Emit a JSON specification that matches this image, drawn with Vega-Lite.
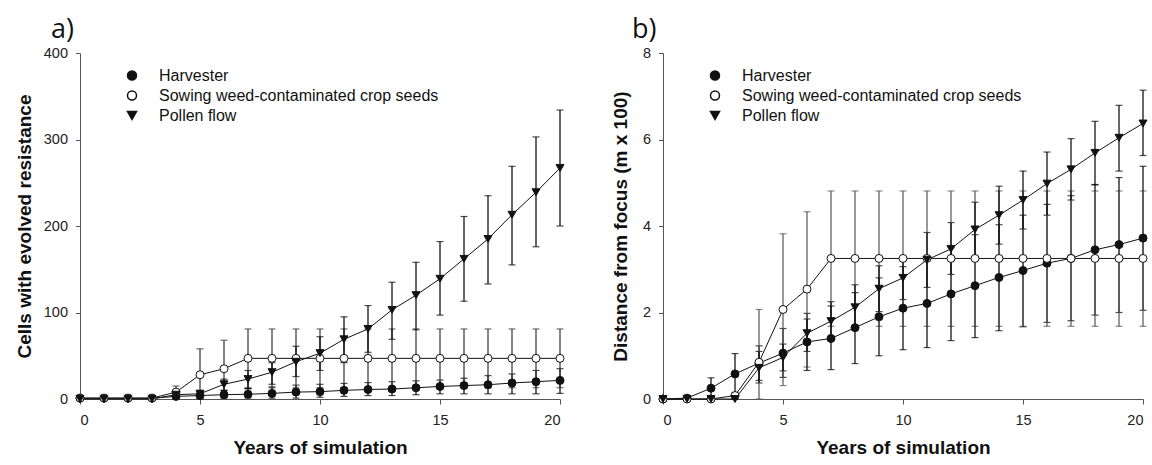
{
  "$schema": "https://vega.github.io/schema/vega-lite/v6.json",
  "background": "white",
  "padding": {"left": 15, "top": 16, "right": 0, "bottom": 0},
  "resolve": {"scale": {"shape": "independent", "fill": "independent", "color": "independent"}, "legend": {"shape": "independent", "fill": "independent", "color": "independent"}},
  "config": {
    "view": {"stroke": null},
    "font": "Liberation Sans",
    "concat": {"spacing": 45},
    "axis": {
      "grid": false,
      "domainColor": "#555",
      "tickColor": "#555",
      "domainWidth": 1,
      "tickWidth": 1,
      "labelFont": "Liberation Sans",
      "labelFontSize": 14.5,
      "labelColor": "#222",
      "titleFont": "Liberation Sans",
      "titleFontSize": 19,
      "titleFontWeight": "bold",
      "titleColor": "#111"
    },
    "axisX": {"tickSize": 5, "labelPadding": 9, "titlePadding": 12},
    "axisY": {"tickSize": 4.5, "labelPadding": 8},
    "legend": {"labelLimit": 0, "labelFontSize": 16, "labelFont": "Liberation Sans", "labelColor": "#111"}
  },
  "datasets": {
    "a": [
      {"s": "Harvester", "year": 0, "v": 1, "lo": 1, "hi": 1},
      {"s": "Harvester", "year": 1, "v": 1, "lo": 1, "hi": 1},
      {"s": "Harvester", "year": 2, "v": 1, "lo": 1, "hi": 1},
      {"s": "Harvester", "year": 3, "v": 1, "lo": 1, "hi": 1},
      {"s": "Harvester", "year": 4, "v": 3, "lo": 1, "hi": 6},
      {"s": "Harvester", "year": 5, "v": 4, "lo": 1, "hi": 8},
      {"s": "Harvester", "year": 6, "v": 5, "lo": 1, "hi": 10},
      {"s": "Harvester", "year": 7, "v": 5.5, "lo": 1, "hi": 12},
      {"s": "Harvester", "year": 8, "v": 6.5, "lo": 1, "hi": 14},
      {"s": "Harvester", "year": 9, "v": 8, "lo": 1, "hi": 16},
      {"s": "Harvester", "year": 10, "v": 8.5, "lo": 2, "hi": 17},
      {"s": "Harvester", "year": 11, "v": 10, "lo": 3, "hi": 18},
      {"s": "Harvester", "year": 12, "v": 11, "lo": 4, "hi": 19},
      {"s": "Harvester", "year": 13, "v": 11.5, "lo": 4, "hi": 20},
      {"s": "Harvester", "year": 14, "v": 13, "lo": 5, "hi": 21},
      {"s": "Harvester", "year": 15, "v": 14.5, "lo": 6, "hi": 22},
      {"s": "Harvester", "year": 16, "v": 15.5, "lo": 6, "hi": 24},
      {"s": "Harvester", "year": 17, "v": 16.5, "lo": 6, "hi": 27},
      {"s": "Harvester", "year": 18, "v": 18.5, "lo": 6, "hi": 29},
      {"s": "Harvester", "year": 19, "v": 20, "lo": 6, "hi": 33},
      {"s": "Harvester", "year": 20, "v": 21.5, "lo": 6.5, "hi": 35},
      {"s": "Sowing weed-contaminated crop seeds", "year": 0, "v": 1, "lo": 1, "hi": 1},
      {"s": "Sowing weed-contaminated crop seeds", "year": 1, "v": 1, "lo": 1, "hi": 1},
      {"s": "Sowing weed-contaminated crop seeds", "year": 2, "v": 1, "lo": 1, "hi": 1},
      {"s": "Sowing weed-contaminated crop seeds", "year": 3, "v": 1, "lo": 1, "hi": 1},
      {"s": "Sowing weed-contaminated crop seeds", "year": 4, "v": 8, "lo": 1, "hi": 15},
      {"s": "Sowing weed-contaminated crop seeds", "year": 5, "v": 28, "lo": 0, "hi": 58},
      {"s": "Sowing weed-contaminated crop seeds", "year": 6, "v": 35, "lo": 2, "hi": 68},
      {"s": "Sowing weed-contaminated crop seeds", "year": 7, "v": 47, "lo": 13, "hi": 81},
      {"s": "Sowing weed-contaminated crop seeds", "year": 8, "v": 47, "lo": 13, "hi": 81},
      {"s": "Sowing weed-contaminated crop seeds", "year": 9, "v": 47, "lo": 13, "hi": 81},
      {"s": "Sowing weed-contaminated crop seeds", "year": 10, "v": 47, "lo": 13, "hi": 81},
      {"s": "Sowing weed-contaminated crop seeds", "year": 11, "v": 47, "lo": 13, "hi": 81},
      {"s": "Sowing weed-contaminated crop seeds", "year": 12, "v": 47, "lo": 13, "hi": 81},
      {"s": "Sowing weed-contaminated crop seeds", "year": 13, "v": 47, "lo": 13, "hi": 81},
      {"s": "Sowing weed-contaminated crop seeds", "year": 14, "v": 47, "lo": 13, "hi": 81},
      {"s": "Sowing weed-contaminated crop seeds", "year": 15, "v": 47, "lo": 13, "hi": 81},
      {"s": "Sowing weed-contaminated crop seeds", "year": 16, "v": 47, "lo": 13, "hi": 81},
      {"s": "Sowing weed-contaminated crop seeds", "year": 17, "v": 47, "lo": 13, "hi": 81},
      {"s": "Sowing weed-contaminated crop seeds", "year": 18, "v": 47, "lo": 13, "hi": 81},
      {"s": "Sowing weed-contaminated crop seeds", "year": 19, "v": 47, "lo": 13, "hi": 81},
      {"s": "Sowing weed-contaminated crop seeds", "year": 20, "v": 47, "lo": 13, "hi": 81},
      {"s": "Pollen flow", "year": 0, "v": 0, "lo": 0, "hi": 0},
      {"s": "Pollen flow", "year": 1, "v": 0, "lo": 0, "hi": 0},
      {"s": "Pollen flow", "year": 2, "v": 0, "lo": 0, "hi": 0},
      {"s": "Pollen flow", "year": 3, "v": 0, "lo": 0, "hi": 0},
      {"s": "Pollen flow", "year": 4, "v": 5, "lo": 2, "hi": 8},
      {"s": "Pollen flow", "year": 5, "v": 6, "lo": 2, "hi": 10},
      {"s": "Pollen flow", "year": 6, "v": 17, "lo": 10, "hi": 23},
      {"s": "Pollen flow", "year": 7, "v": 23, "lo": 12, "hi": 33},
      {"s": "Pollen flow", "year": 8, "v": 31, "lo": 17, "hi": 42},
      {"s": "Pollen flow", "year": 9, "v": 43, "lo": 26, "hi": 61},
      {"s": "Pollen flow", "year": 10, "v": 53, "lo": 33, "hi": 72},
      {"s": "Pollen flow", "year": 11, "v": 69, "lo": 42, "hi": 95},
      {"s": "Pollen flow", "year": 12, "v": 81, "lo": 54, "hi": 108},
      {"s": "Pollen flow", "year": 13, "v": 103, "lo": 69, "hi": 135},
      {"s": "Pollen flow", "year": 14, "v": 120, "lo": 80, "hi": 158},
      {"s": "Pollen flow", "year": 15, "v": 139, "lo": 97, "hi": 182},
      {"s": "Pollen flow", "year": 16, "v": 162, "lo": 113, "hi": 211},
      {"s": "Pollen flow", "year": 17, "v": 185, "lo": 133, "hi": 235},
      {"s": "Pollen flow", "year": 18, "v": 213, "lo": 155, "hi": 269},
      {"s": "Pollen flow", "year": 19, "v": 239, "lo": 176, "hi": 303},
      {"s": "Pollen flow", "year": 20, "v": 267, "lo": 200, "hi": 334}
    ],
    "b": [
      {"s": "Harvester", "year": 0, "v": 0, "lo": 0, "hi": 0},
      {"s": "Harvester", "year": 1, "v": 0.02, "lo": 0, "hi": 0.05},
      {"s": "Harvester", "year": 2, "v": 0.25, "lo": 0.02, "hi": 0.49},
      {"s": "Harvester", "year": 3, "v": 0.58, "lo": 0.1, "hi": 1.05},
      {"s": "Harvester", "year": 4, "v": 0.83, "lo": 0.43, "hi": 1.23},
      {"s": "Harvester", "year": 5, "v": 1.06, "lo": 0.5, "hi": 1.63},
      {"s": "Harvester", "year": 6, "v": 1.32, "lo": 0.66, "hi": 1.98},
      {"s": "Harvester", "year": 7, "v": 1.4, "lo": 0.68, "hi": 2.15},
      {"s": "Harvester", "year": 8, "v": 1.65, "lo": 0.82, "hi": 2.46},
      {"s": "Harvester", "year": 9, "v": 1.9, "lo": 1.0, "hi": 2.8},
      {"s": "Harvester", "year": 10, "v": 2.1, "lo": 1.14, "hi": 3.06},
      {"s": "Harvester", "year": 11, "v": 2.21, "lo": 1.19, "hi": 3.23},
      {"s": "Harvester", "year": 12, "v": 2.43, "lo": 1.35, "hi": 3.5},
      {"s": "Harvester", "year": 13, "v": 2.62, "lo": 1.42, "hi": 3.8},
      {"s": "Harvester", "year": 14, "v": 2.81, "lo": 1.58, "hi": 4.03},
      {"s": "Harvester", "year": 15, "v": 2.97, "lo": 1.67, "hi": 4.25},
      {"s": "Harvester", "year": 16, "v": 3.14, "lo": 1.77, "hi": 4.5},
      {"s": "Harvester", "year": 17, "v": 3.25, "lo": 1.81, "hi": 4.7},
      {"s": "Harvester", "year": 18, "v": 3.45, "lo": 1.94, "hi": 4.96},
      {"s": "Harvester", "year": 19, "v": 3.57, "lo": 2.0, "hi": 5.12},
      {"s": "Harvester", "year": 20, "v": 3.72, "lo": 2.05, "hi": 5.38},
      {"s": "Sowing weed-contaminated crop seeds", "year": 0, "v": 0, "lo": 0, "hi": 0},
      {"s": "Sowing weed-contaminated crop seeds", "year": 1, "v": 0, "lo": 0, "hi": 0},
      {"s": "Sowing weed-contaminated crop seeds", "year": 2, "v": 0, "lo": 0, "hi": 0},
      {"s": "Sowing weed-contaminated crop seeds", "year": 3, "v": 0.08, "lo": 0, "hi": 0.15},
      {"s": "Sowing weed-contaminated crop seeds", "year": 4, "v": 0.85, "lo": 0, "hi": 2.07},
      {"s": "Sowing weed-contaminated crop seeds", "year": 5, "v": 2.07, "lo": 0.31, "hi": 3.82},
      {"s": "Sowing weed-contaminated crop seeds", "year": 6, "v": 2.54, "lo": 0.74, "hi": 4.33},
      {"s": "Sowing weed-contaminated crop seeds", "year": 7, "v": 3.25, "lo": 1.68, "hi": 4.81},
      {"s": "Sowing weed-contaminated crop seeds", "year": 8, "v": 3.25, "lo": 1.68, "hi": 4.81},
      {"s": "Sowing weed-contaminated crop seeds", "year": 9, "v": 3.25, "lo": 1.68, "hi": 4.81},
      {"s": "Sowing weed-contaminated crop seeds", "year": 10, "v": 3.25, "lo": 1.68, "hi": 4.81},
      {"s": "Sowing weed-contaminated crop seeds", "year": 11, "v": 3.25, "lo": 1.68, "hi": 4.81},
      {"s": "Sowing weed-contaminated crop seeds", "year": 12, "v": 3.25, "lo": 1.68, "hi": 4.81},
      {"s": "Sowing weed-contaminated crop seeds", "year": 13, "v": 3.25, "lo": 1.68, "hi": 4.81},
      {"s": "Sowing weed-contaminated crop seeds", "year": 14, "v": 3.25, "lo": 1.68, "hi": 4.81},
      {"s": "Sowing weed-contaminated crop seeds", "year": 15, "v": 3.25, "lo": 1.68, "hi": 4.81},
      {"s": "Sowing weed-contaminated crop seeds", "year": 16, "v": 3.25, "lo": 1.68, "hi": 4.81},
      {"s": "Sowing weed-contaminated crop seeds", "year": 17, "v": 3.25, "lo": 1.68, "hi": 4.81},
      {"s": "Sowing weed-contaminated crop seeds", "year": 18, "v": 3.25, "lo": 1.68, "hi": 4.81},
      {"s": "Sowing weed-contaminated crop seeds", "year": 19, "v": 3.25, "lo": 1.68, "hi": 4.81},
      {"s": "Sowing weed-contaminated crop seeds", "year": 20, "v": 3.25, "lo": 1.68, "hi": 4.81},
      {"s": "Pollen flow", "year": 0, "v": 0, "lo": 0, "hi": 0},
      {"s": "Pollen flow", "year": 1, "v": 0, "lo": 0, "hi": 0},
      {"s": "Pollen flow", "year": 2, "v": 0, "lo": 0, "hi": 0},
      {"s": "Pollen flow", "year": 3, "v": 0, "lo": 0, "hi": 0},
      {"s": "Pollen flow", "year": 4, "v": 0.72, "lo": 0.37, "hi": 1.1},
      {"s": "Pollen flow", "year": 5, "v": 0.96, "lo": 0.65, "hi": 1.27},
      {"s": "Pollen flow", "year": 6, "v": 1.52, "lo": 1.1, "hi": 1.85},
      {"s": "Pollen flow", "year": 7, "v": 1.8, "lo": 1.35, "hi": 2.25},
      {"s": "Pollen flow", "year": 8, "v": 2.12, "lo": 1.6, "hi": 2.64},
      {"s": "Pollen flow", "year": 9, "v": 2.55, "lo": 2.02, "hi": 3.08},
      {"s": "Pollen flow", "year": 10, "v": 2.8, "lo": 2.3, "hi": 3.27},
      {"s": "Pollen flow", "year": 11, "v": 3.22, "lo": 2.58, "hi": 3.85},
      {"s": "Pollen flow", "year": 12, "v": 3.47, "lo": 2.88, "hi": 4.08},
      {"s": "Pollen flow", "year": 13, "v": 3.92, "lo": 3.29, "hi": 4.55},
      {"s": "Pollen flow", "year": 14, "v": 4.25, "lo": 3.58, "hi": 4.92},
      {"s": "Pollen flow", "year": 15, "v": 4.6, "lo": 3.93, "hi": 5.27},
      {"s": "Pollen flow", "year": 16, "v": 4.98, "lo": 4.25, "hi": 5.71},
      {"s": "Pollen flow", "year": 17, "v": 5.31, "lo": 4.6, "hi": 6.02},
      {"s": "Pollen flow", "year": 18, "v": 5.69, "lo": 4.95, "hi": 6.42},
      {"s": "Pollen flow", "year": 19, "v": 6.04, "lo": 5.27, "hi": 6.79},
      {"s": "Pollen flow", "year": 20, "v": 6.37, "lo": 5.63, "hi": 7.14}
    ]
  },
  "hconcat": [
    {
      "width": 480,
      "height": 346,
      "title": {"text": "a)", "anchor": "start", "frame": "group", "dx": -29, "offset": 1, "fontSize": 27, "font": "Open Sans", "fontWeight": "normal", "color": "#111"},
      "data": {"name": "a"},
      "layer": [
        {
          "mark": {"type": "errorbar", "ticks": {"size": 7, "thickness": 1.2}, "rule": {"strokeWidth": 1.2}},
          "encoding": {
            "x": {"field": "year", "type": "quantitative", "scale": {"domain": [0, 20], "nice": false}, "axis": {"values": [0, 5, 10, 15, 20], "title": "Years of simulation"}},
            "y": {"field": "lo", "type": "quantitative", "scale": {"domain": [0, 400], "nice": false}, "axis": {"values": [0, 100, 200, 300, 400], "title": "Cells with evolved resistance", "titlePadding": 9}},
            "y2": {"field": "hi"},
            "color": {"field": "s", "type": "nominal", "scale": {"domain": ["Pollen flow", "Harvester", "Sowing weed-contaminated crop seeds"], "range": ["#000", "#000", "#333"]}, "legend": null}
          }
        },
        {
          "mark": {"type": "line", "color": "#111", "strokeWidth": 1},
          "encoding": {
            "x": {"field": "year", "type": "quantitative"},
            "y": {"field": "v", "type": "quantitative"},
            "detail": {"field": "s", "type": "nominal"}
          }
        },
        {
          "mark": {"type": "point", "filled": true, "size": 64, "stroke": "#111", "strokeWidth": 1, "opacity": 1},
          "encoding": {
            "x": {"field": "year", "type": "quantitative"},
            "y": {"field": "v", "type": "quantitative"},
            "shape": {"field": "s", "type": "nominal", "scale": {"domain": ["Harvester", "Sowing weed-contaminated crop seeds", "Pollen flow"], "range": ["circle", "circle", "triangle-down"]},
              "legend": {"title": null, "orient": "none", "legendX": 44, "legendY": 14.5, "padding": 0, "symbolSize": 81, "labelFontSize": 16, "labelOffset": 19, "rowPadding": 4, "labelLimit": 0}},
            "fill": {"field": "s", "type": "nominal", "scale": {"domain": ["Harvester", "Sowing weed-contaminated crop seeds", "Pollen flow"], "range": ["#111", "white", "#111"]},
              "legend": {"title": null, "orient": "none", "legendX": 44, "legendY": 14.5, "padding": 0, "symbolSize": 81, "labelFontSize": 16, "labelOffset": 19, "rowPadding": 4, "labelLimit": 0}}
          }
        }
      ]
    },
    {
      "width": 480,
      "height": 346,
      "title": {"text": "b)", "anchor": "start", "frame": "group", "dx": -31, "offset": 1, "fontSize": 27, "font": "Open Sans", "fontWeight": "normal", "color": "#111"},
      "data": {"name": "b"},
      "layer": [
        {
          "mark": {"type": "errorbar", "ticks": {"size": 7, "thickness": 1.2}, "rule": {"strokeWidth": 1.2}},
          "encoding": {
            "x": {"field": "year", "type": "quantitative", "scale": {"domain": [0, 20], "nice": false}, "axis": {"values": [0, 5, 10, 15, 20], "title": "Years of simulation"}},
            "y": {"field": "lo", "type": "quantitative", "scale": {"domain": [0, 8], "nice": false}, "axis": {"values": [0, 2, 4, 6, 8], "title": "Distance from focus (m x 100)", "titlePadding": 12}},
            "y2": {"field": "hi"},
            "color": {"field": "s", "type": "nominal", "scale": {"domain": ["Pollen flow", "Harvester", "Sowing weed-contaminated crop seeds"], "range": ["#000", "#000", "#555"]}, "legend": null}
          }
        },
        {
          "mark": {"type": "line", "color": "#111", "strokeWidth": 1},
          "encoding": {
            "x": {"field": "year", "type": "quantitative"},
            "y": {"field": "v", "type": "quantitative"},
            "detail": {"field": "s", "type": "nominal"}
          }
        },
        {
          "mark": {"type": "point", "filled": true, "size": 64, "stroke": "#111", "strokeWidth": 1, "opacity": 1},
          "encoding": {
            "x": {"field": "year", "type": "quantitative"},
            "y": {"field": "v", "type": "quantitative"},
            "shape": {"field": "s", "type": "nominal", "scale": {"domain": ["Harvester", "Sowing weed-contaminated crop seeds", "Pollen flow"], "range": ["circle", "circle", "triangle-down"]},
              "legend": {"title": null, "orient": "none", "legendX": 44, "legendY": 14.5, "padding": 0, "symbolSize": 81, "labelFontSize": 16, "labelOffset": 19, "rowPadding": 4, "labelLimit": 0}},
            "fill": {"field": "s", "type": "nominal", "scale": {"domain": ["Harvester", "Sowing weed-contaminated crop seeds", "Pollen flow"], "range": ["#111", "white", "#111"]},
              "legend": {"title": null, "orient": "none", "legendX": 44, "legendY": 14.5, "padding": 0, "symbolSize": 81, "labelFontSize": 16, "labelOffset": 19, "rowPadding": 4, "labelLimit": 0}}
          }
        }
      ]
    }
  ]
}
